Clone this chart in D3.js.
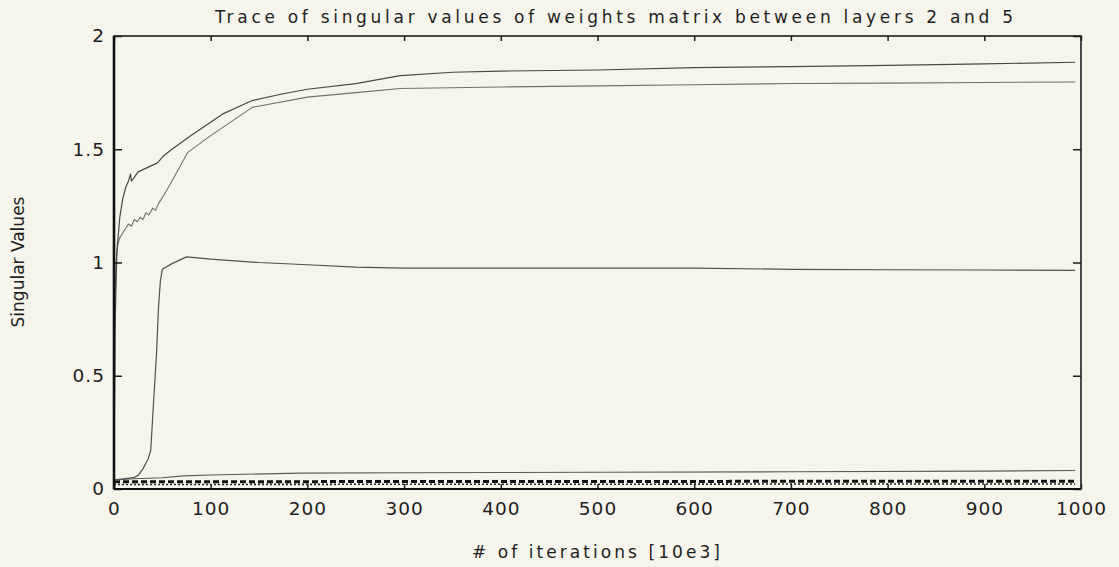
<!DOCTYPE html>
<html><head><meta charset="utf-8">
<script src="https://cdn.jsdelivr.net/npm/d3@7"></script>
<style>
html,body{margin:0;padding:0;background:#f6f5eb;}
svg{display:block;}
</style></head>
<body>
<svg id="chart" width="1119" height="567"></svg>
<script>
// ---- data ----
const titleText = "Trace of singular values of weights matrix between layers 2 and 5";
const xLabelText = "# of iterations [10e3]";
const yLabelText = "Singular Values";
const xTicks = [0,100,200,300,400,500,600,700,800,900,1000];
const yTicks = [0,0.5,1,1.5,2];
const yTickLabels = ["0","0.5","1","1.5","2"];

const sv1X = [0,1,3,6,9,12,15,17,18,20,25,30,35,40,45,51,60,76,90,112,143,175,200,250,296,350,400,500,600,700,800,900,994];
const sv1Y = [0.03,0.7,1.05,1.2,1.28,1.33,1.36,1.39,1.36,1.37,1.40,1.41,1.42,1.43,1.44,1.47,1.50,1.55,1.59,1.655,1.715,1.745,1.765,1.79,1.825,1.84,1.845,1.85,1.86,1.865,1.87,1.877,1.884];

const sv2X = [0,1,2,4,6,9,12,15,18,21,24,27,30,33,36,40,43,46,52,60,76,100,143,200,250,296,400,500,600,700,800,900,994];
const sv2Y = [0.03,0.8,1.0,1.08,1.11,1.13,1.15,1.17,1.16,1.19,1.18,1.20,1.19,1.22,1.21,1.24,1.23,1.26,1.30,1.36,1.485,1.56,1.685,1.73,1.75,1.768,1.775,1.78,1.785,1.79,1.792,1.795,1.797];

const sv3X = [0,10,20,25,30,35,38,41,44,46,48,50,60,75,100,150,200,250,300,400,500,600,700,800,900,994];
const sv3Y = [0.04,0.045,0.05,0.06,0.09,0.13,0.17,0.39,0.6,0.8,0.92,0.97,0.995,1.025,1.015,1.0,0.99,0.98,0.975,0.975,0.975,0.975,0.97,0.968,0.967,0.965];

const sv4X = [0,20,50,72,100,193,300,400,500,700,900,994];
const sv4Y = [0.04,0.045,0.05,0.058,0.062,0.07,0.072,0.073,0.074,0.076,0.079,0.082];

const sv5X = [0,100,300,500,700,994];
const sv5Y = [0.032,0.032,0.033,0.033,0.034,0.034];

const sv6X = [0,100,300,500,700,994];
const sv6Y = [0.02,0.02,0.021,0.021,0.022,0.022];

// ---- drawing ----
const svg = d3.select("#chart");
const L = 114, R = 1081, T = 36, B = 489;
const x = d3.scaleLinear().domain([0,1000]).range([L,R]);
const y = d3.scaleLinear().domain([0,2]).range([B,T]);

const ink = "#1e1e1e";
const fontTick = "'DejaVu Sans', sans-serif";

// series
const line = d3.line().x(d=>x(d[0])).y(d=>y(d[1]));
const zip = (a,b)=>a.map((v,i)=>[v,b[i]]);
const series = [
  {d: zip(sv6X,sv6Y), c:"#222", w:1.6, dash:"2,2"},
  {d: zip(sv5X,sv5Y), c:"#111", w:3, dash:"6,3"},
  {d: zip(sv4X,sv4Y), c:"#5a5a5a", w:1.1, dash:null},
  {d: zip(sv3X,sv3Y), c:"#505050", w:1.2, dash:null},
  {d: zip(sv2X,sv2Y), c:"#707070", w:1.1, dash:null},
  {d: zip(sv1X,sv1Y), c:"#484848", w:1.2, dash:null}
];
svg.append("g").selectAll("path").data(series).join("path")
  .attr("d", s=>line(s.d))
  .attr("fill","none")
  .attr("stroke", s=>s.c)
  .attr("stroke-width", s=>s.w)
  .attr("stroke-dasharray", s=>s.dash)
  .attr("stroke-linejoin","round");

// axes
const ax = svg.append("g").attr("transform",`translate(0,${B})`)
  .call(d3.axisBottom(x).tickValues(xTicks).tickFormat(d3.format("d")).tickSizeInner(-5).tickSizeOuter(0).tickPadding(13));
const axT = svg.append("g").attr("transform",`translate(0,${T})`)
  .call(d3.axisTop(x).tickValues(xTicks).tickFormat("").tickSizeInner(-5).tickSizeOuter(0));
const ay = svg.append("g").attr("transform",`translate(${L},0)`)
  .call(d3.axisLeft(y).tickValues(yTicks).tickFormat((d,i)=>yTickLabels[i]).tickSizeInner(-8).tickSizeOuter(0).tickPadding(9));
const ayR = svg.append("g").attr("transform",`translate(${R},0)`)
  .call(d3.axisRight(y).tickValues(yTicks).tickFormat("").tickSizeInner(-8).tickSizeOuter(0));

[ax,axT,ay,ayR].forEach(g=>{
  g.select(".domain").remove();
  g.selectAll(".tick line").attr("stroke",ink).attr("stroke-width",1.5);
  g.selectAll("text").attr("fill",ink).attr("font-family",fontTick).attr("font-size",18.5).style("letter-spacing","1px");
});
ax.selectAll("text").attr("dy","0.71em");

// frame
svg.append("rect").attr("x",L).attr("y",T).attr("width",R-L).attr("height",B-T)
  .attr("fill","none").attr("stroke",ink).attr("stroke-width",1.6);
svg.append("line").attr("x1",L).attr("x2",L).attr("y1",T).attr("y2",B)
  .attr("stroke","#111").attr("stroke-width",2.6);
svg.append("line").attr("x1",L).attr("x2",R).attr("y1",B).attr("y2",B)
  .attr("stroke","#111").attr("stroke-width",2.2);

// title
svg.append("text").attr("x",614).attr("y",23).attr("text-anchor","middle")
  .attr("font-family",fontTick).attr("font-size",17).attr("fill",ink)
  .attr("textLength",798).attr("lengthAdjust","spacing")
  .text(titleText);

// x label
svg.append("text").attr("x",596).attr("y",558).attr("text-anchor","middle")
  .attr("font-family",fontTick).attr("font-size",17).attr("fill",ink)
  .attr("textLength",248).attr("lengthAdjust","spacing")
  .text(xLabelText);

// y label
svg.append("text").attr("transform","translate(24,262) rotate(-90)").attr("text-anchor","middle")
  .attr("font-family","'Liberation Sans Narrow','DejaVu Sans Condensed',sans-serif")
  .attr("font-size",17).attr("fill",ink)
  .attr("textLength",131).attr("lengthAdjust","spacingAndGlyphs")
  .text(yLabelText);
</script>
</body></html>
